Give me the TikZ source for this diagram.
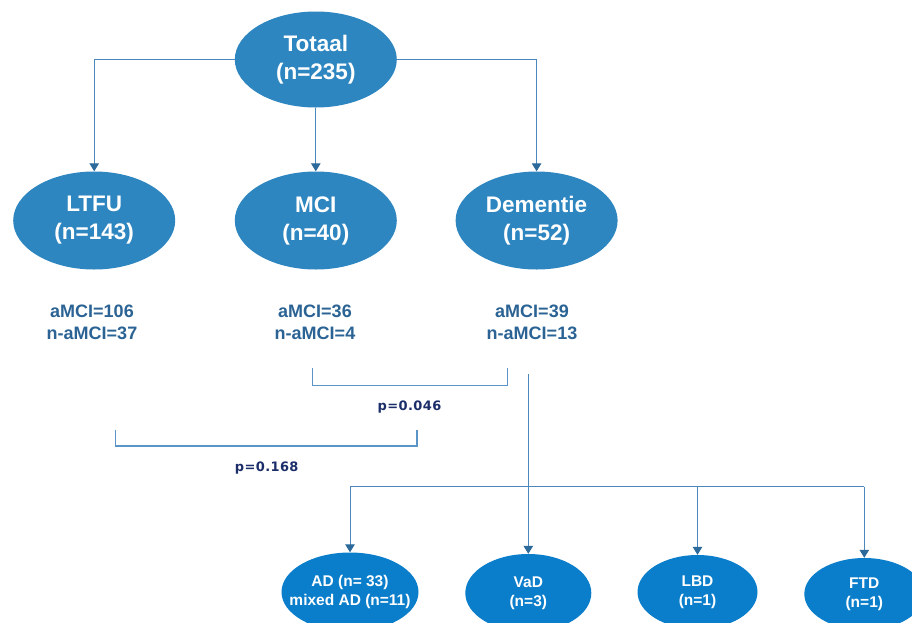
\documentclass[tikz,border=0pt]{standalone}
\usepackage{fontspec}
\setmainfont{Liberation Sans}
\newfontfamily\pfont{DejaVu Sans}[LetterSpace=3]
\usetikzlibrary{shapes.geometric,arrows.meta}
\definecolor{topfill}{HTML}{2E86C1}
\definecolor{botfill}{HTML}{0A7DCB}
\definecolor{linec}{HTML}{4A87BA}
\definecolor{tipc}{HTML}{2B6A9B}
\definecolor{statc}{HTML}{2A6394}
\definecolor{pcol}{HTML}{1C2E6A}
\definecolor{brc}{HTML}{5B95C8}
\tikzset{
  ellbase/.style={ellipse, draw=none, inner sep=0pt},
  toptext/.style={text=white, align=center, inner sep=0pt, font=\fontsize{22.5}{28}\selectfont\bfseries},
  bottext/.style={text=white, align=center, inner sep=0pt, font=\fontsize{15.5}{19}\selectfont\bfseries},
  topell/.style={ellbase, fill=topfill, label={[toptext]center:#1}},
  botell/.style={ellbase, fill=botfill, label={[bottext]center:#1}},
  stat/.style={text=statc, align=center, inner sep=0pt, font=\fontsize{18}{22.3}\selectfont\bfseries},
  ptext/.style={text=pcol, inner sep=0pt, font=\fontsize{13}{15}\selectfont\pfont\bfseries},
  conn/.style={draw=linec, line width=1pt},
  arr/.style={conn, -{Triangle[width=9.5pt,length=8pt,fill=tipc,color=tipc]}},
  bracket/.style={draw=brc, line width=1.1pt}
}
\begin{document}
\begin{tikzpicture}[x=1pt,y=-1pt]
\useasboundingbox (0,0) rectangle (912,622);
\fill[white] (0,0) rectangle (912,622);
\clip (0,0) rectangle (912,622);

% top level
\node[topell={Totaal\\(n=235)}, minimum width=162pt, minimum height=96pt] (tot) at (315.8,59.5) {};
\node[topell={LTFU\\(n=143)}, minimum width=162pt, minimum height=98pt] (ltfu) at (94.2,220.5) {};
\node[topell={MCI\\(n=40)}, minimum width=162pt, minimum height=98pt] (mci) at (315.8,220.5) {};
\node[topell={Dementie\\(n=52)}, minimum width=162pt, minimum height=98pt] (dem) at (536.6,220.5) {};

\draw[arr] (tot.west) -| (ltfu.north);
\draw[arr] (tot.south) -- (mci.north);
\draw[arr] (tot.east) -| (dem.north);

% stats
\node[stat] (s1) at (92,322) {aMCI=106\\n-aMCI=37};
\node[stat] (s2) at (315,322) {aMCI=36\\n-aMCI=4};
\node[stat] (s3) at (532,322) {aMCI=39\\n-aMCI=13};

% brackets
\coordinate (b1l) at (312.5,368);
\coordinate (b1r) at (507.7,368);
\draw[bracket] (b1l) -- (312.5,385.5) -- (507.7,385.5) -- (b1r);
\node[ptext] (p1) at (409.5,406.7) {p=0.046};
\coordinate (b2l) at (115.6,430);
\coordinate (b2r) at (417,430);
\draw[bracket] (b2l) -- (115.6,446) -- (417,446) -- (b2r);
\node[ptext] (p2) at (266.7,468.3) {p=0.168};

% bottom level
\node[botell={AD (n= 33)\\mixed AD (n=11)}, minimum width=137pt, minimum height=79pt] (ad) at (350,592) {};
\node[botell={VaD\\(n=3)}, minimum width=126pt, minimum height=78pt] (vad) at (528.3,593) {};
\node[botell={LBD\\(n=1)}, minimum width=120pt, minimum height=74pt] (lbd) at (697.5,592) {};
\node[botell={FTD\\(n=1)}, minimum width=120pt, minimum height=72pt] (ftd) at (864.3,594) {};

\coordinate (dstart) at (528.3,374);
\coordinate (hl) at (350,486.7);
\coordinate (hr) at (864.3,486.7);
\draw[conn] (hl) -- (hr);
\draw[arr] (dstart) -- (vad.north);
\draw[arr] (hl) -- (ad.north);
\draw[arr] (lbd.north |- hl) -- (lbd.north);
\draw[arr] (hr) -- (ftd.north);
\end{tikzpicture}
\end{document}
